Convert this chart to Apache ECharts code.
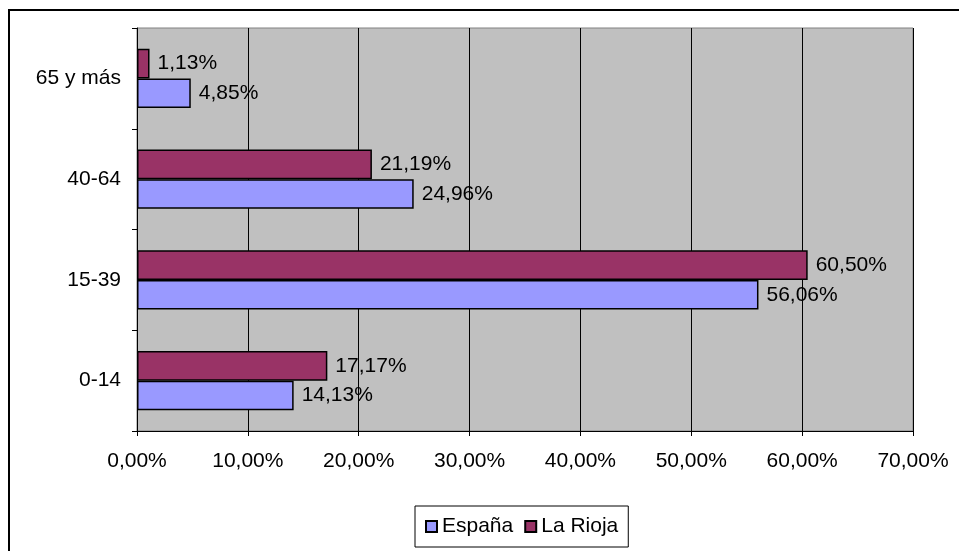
<!DOCTYPE html>
<html lang="es">
<head>
    <meta charset="UTF-8">
    <title>Población por edades</title>
    <style type="text/css">
        html, body {
            margin: 0;
            padding: 0;
            background: #fff;
        }

        #chart {
            width: 959px;
            height: 551px;
        }
    </style>
</head>
<body>

<div id="chart"></div>

<script src="https://cdn.jsdelivr.net/npm/echarts@6/dist/echarts.min.js"></script>
<script>
    // datos
    var categorias = ['0-14', '15-39', '40-64', '65 y más'];
    var espana = [14.13, 56.06, 24.96, 4.85];
    var laRioja = [17.17, 60.50, 21.19, 1.13];
    var ejeMin = 0, ejeMax = 70, ejeIntervalo = 10;

    var fuente = '"Liberation Sans", Arial, sans-serif';
    var tamFuente = 21;

    function formatoPct(v, dec) {
        return v.toFixed(dec).replace('.', ',') + '%';
    }

    var chart = echarts.init(document.getElementById('chart'));

    var etiqueta = {
        show: true,
        position: 'right',
        distance: 8,
        color: '#000',
        fontFamily: fuente,
        fontSize: tamFuente,
        formatter: function (p) {
            return formatoPct(p.value, 2);
        }
    };

    var option = {
        animation: false,
        backgroundColor: '#fff',
        textStyle: {
            fontFamily: fuente
        },
        graphic: [{
            type: 'rect',
            shape: {x: 9, y: 10, width: 1000, height: 1000},
            style: {fill: 'none', stroke: '#000', lineWidth: 2},
            z: 100
        }],
        grid: {
            left: 137,
            right: 46,
            top: 28,
            bottom: 120,
            show: true,
            backgroundColor: '#c0c0c0',
            borderColor: '#808080',
            borderWidth: 1
        },
        legend: {
            left: 415,
            top: 506,
            padding: [10, 10],
            borderColor: '#000',
            borderWidth: 1,
            itemWidth: 11,
            itemHeight: 11,
            itemGap: 11,
            icon: 'rect',
            textStyle: {
                color: '#000',
                fontSize: tamFuente,
                fontFamily: fuente
            },
            data: ['España', 'La Rioja']
        },
        xAxis: {
            type: 'value',
            min: ejeMin,
            max: ejeMax,
            interval: ejeIntervalo,
            axisLine: {show: true, lineStyle: {color: '#000', width: 1}},
            axisTick: {show: true, length: 5, lineStyle: {color: '#000'}},
            splitLine: {show: true, lineStyle: {color: '#000', width: 1}},
            axisLabel: {
                color: '#000',
                fontSize: tamFuente,
                fontFamily: fuente,
                margin: 20,
                formatter: function (v) {
                    return formatoPct(v, 2);
                }
            }
        },
        yAxis: {
            type: 'category',
            data: categorias,
            axisLine: {show: true, lineStyle: {color: '#000', width: 1}},
            axisTick: {show: true, length: 5, lineStyle: {color: '#000'}},
            axisLabel: {
                color: '#000',
                fontSize: tamFuente,
                fontFamily: fuente,
                margin: 16
            }
        },
        // La Rioja va primero para quedar arriba dentro de cada categoría
        series: [{
            name: 'La Rioja',
            type: 'bar',
            data: laRioja,
            barGap: 0,
            barCategoryGap: '41%',
            itemStyle: {
                color: '#993366',
                borderColor: '#000',
                borderWidth: 1.5
            },
            label: etiqueta
        }, {
            name: 'España',
            type: 'bar',
            data: espana,
            barGap: 0,
            barCategoryGap: '41%',
            itemStyle: {
                color: '#9999ff',
                borderColor: '#000',
                borderWidth: 1.5
            },
            label: etiqueta
        }]
    };

    chart.setOption(option);
</script>

</body>
</html>
